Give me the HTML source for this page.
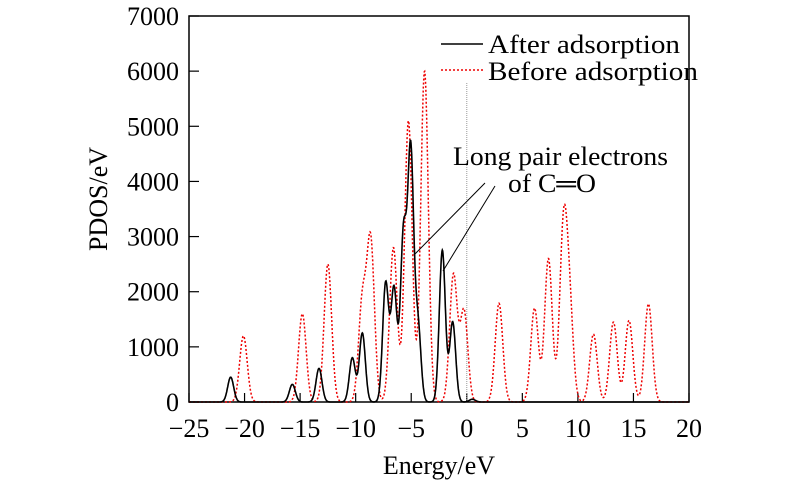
<!DOCTYPE html>
<html><head><meta charset="utf-8"><style>
html,body{margin:0;padding:0;background:#fff;}
svg{display:block;font-family:"Liberation Serif",serif;}
</style></head><body>
<svg id="chart" width="800" height="493" viewBox="0 0 800 493">
<g id="axes"></g>
<g id="series"></g>
<g>
  <line x1="441" y1="44" x2="483" y2="44" stroke="#000" stroke-width="1.5"/>
  <text x="488" y="53" font-size="26" textLength="192" lengthAdjust="spacingAndGlyphs">After adsorption</text>
  <line x1="441" y1="70" x2="483" y2="70" stroke="#e00" stroke-width="1.5" stroke-dasharray="2,2"/>
  <text x="488" y="80" font-size="26" textLength="210" lengthAdjust="spacingAndGlyphs">Before adsorption</text>
</g>
<g>
  <text x="453" y="165" font-size="26" textLength="215" lengthAdjust="spacingAndGlyphs">Long pair electrons</text>
  <text x="508" y="192" font-size="26" textLength="88" lengthAdjust="spacingAndGlyphs">of C═O</text>
  <line x1="485" y1="183" x2="414" y2="255" stroke="#000" stroke-width="1"/>
  <line x1="495" y1="186" x2="443" y2="271" stroke="#000" stroke-width="1"/>
</g>
<text x="439" y="474" font-size="26" text-anchor="middle">Energy/eV</text>
<text transform="translate(107,199) rotate(-90)" font-size="26" text-anchor="middle">PDOS/eV</text>
</svg>
<script>
const xTicks = [-25,-20,-15,-10,-5,0,5,10,15,20];
const yTicks = [0,1000,2000,3000,4000,5000,6000,7000];
const afterCenters = [-21.25,-15.7,-13.3,-10.3,-9.4,-7.3,-6.55,-5.7,-5.05,-4.4,-2.2,-1.27,0.5];
const afterHeights = [450,320,610,800,1250,2150,2050,3000,4500,1400,2750,1450,50];
const beforeCenters = [-20.1,-14.8,-12.5,-9.4,-8.65,-6.6,-5.25,-3.8,-1.2,-0.25,2.9,6.1,7.35,8.7,9.25,11.4,13.2,14.6,16.35];
const beforeHeights = [1200,1600,2500,1800,2900,2800,5100,6000,2300,1650,1790,1700,2600,3050,1600,1230,1450,1480,1780];

const L=189,R=689,T=16,B=402;
const X=v=>L+(v+25)/45*(R-L);
const Y=v=>B-v/7000*(B-T);
const NS='http://www.w3.org/2000/svg';
function mk(tag,attrs,parent){const e=document.createElementNS(NS,tag);for(const k in attrs)e.setAttribute(k,attrs[k]);parent.appendChild(e);return e;}
const axes=document.getElementById('axes');
const box=mk('rect',{x:L,y:T,width:R-L,height:B-T,fill:'none',stroke:'#000','stroke-width':1.5},axes);


xTicks.forEach(t=>{
  const ln=mk('line',{x1:X(t),x2:X(t),y1:B,y2:B-9,stroke:'#000','stroke-width':1.2},axes);
  
  
  const tx=mk('text',{x:X(t),y:437,'font-size':26,'text-anchor':'middle'},axes);
  tx.textContent=(t<0?'\u2212'+Math.abs(t):t);
  
  
});
yTicks.forEach(t=>{
  const ln=mk('line',{x1:L,x2:L+10,y1:Y(t),y2:Y(t),stroke:'#000','stroke-width':1.2},axes);
  
  
  const tx=mk('text',{x:179,y:Y(t)+9,'font-size':26,'text-anchor':'end'},axes);
  tx.textContent=t;
  
  
});
const fermi=mk('line',{x1:X(0),x2:X(0),y1:83,y2:B,stroke:'#999','stroke-width':1,'stroke-dasharray':'1,1'},axes);



function curve(cs,hs,sig){
  let d='';
  for(let e=-25;e<=20.001;e+=0.03){
    let v=0;for(let i=0;i<cs.length;i++)v+=hs[i]*Math.exp(-((e-cs[i])**2)/(2*sig*sig));
    d+=(d?'L':'M')+X(e).toFixed(1)+','+Y(Math.min(v,7000)).toFixed(1);
  }
  return d;
}
const series=document.getElementById('series');
const before=mk('path',{d:curve(beforeCenters,beforeHeights,0.34),fill:'none',stroke:'#e00','stroke-width':1.5,'stroke-dasharray':'2,2'},series);


const after=mk('path',{d:curve(afterCenters,afterHeights,0.27),fill:'none',stroke:'#000','stroke-width':1.6},series);


</script>
</body></html>
